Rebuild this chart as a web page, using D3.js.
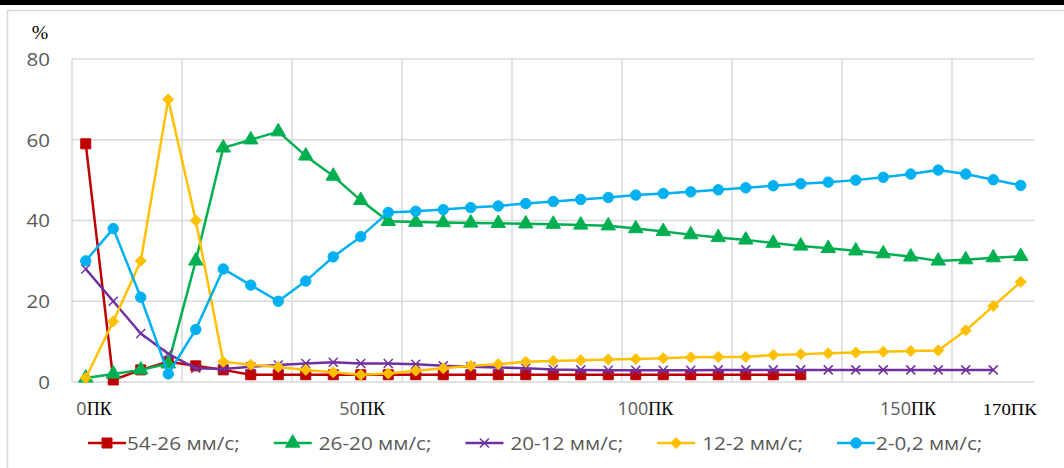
<!DOCTYPE html>
<html>
<head>
<meta charset="utf-8">
<script src="https://cdn.jsdelivr.net/npm/d3@7"></script>
<style>
body { margin: 0; background: #fff; overflow: hidden; }
text { font-family: "Open Sans", sans-serif; }
</style>
</head>
<body>
<script>
// values, one per picket (35 points)
var s54_26 = [59, 0.5, 3, 5, 4, 3, 1.8, 1.8, 1.8, 1.8, 1.8, 1.8, 1.8, 1.8, 1.8, 1.8, 1.8, 1.8,
    1.8, 1.8, 1.8, 1.8, 1.8, 1.8, 1.8, 1.8, 1.8];
var s26_20 = [1, 2, 3, 4.5, 30, 58, 60, 62, 56, 51, 45, 39.8, 39.6, 39.5, 39.4, 39.3, 39.2, 39.1,
    38.9, 38.7, 38, 37.3, 36.5, 35.8, 35.2, 34.4, 33.7, 33.1, 32.5, 31.8, 31, 30, 30.3, 30.8, 31.1];
var s20_12 = [28, 20, 12, 7, 3.4, 3.2, 3.8, 4.2, 4.6, 4.9, 4.6, 4.6, 4.4, 4, 3.8, 3.6, 3.4, 3.1,
    3, 2.9, 2.9, 2.9, 2.9, 3, 3, 3, 3, 3, 3, 3, 3, 3, 3, 3];
var s12_2 = [1, 15, 30, 70, 40, 5, 4.3, 3.7, 3, 2.4, 1.8, 2.1, 2.8, 3.4, 4, 4.4, 5, 5.2,
    5.4, 5.6, 5.7, 5.9, 6.1, 6.2, 6.2, 6.7, 6.9, 7.1, 7.3, 7.5, 7.7, 7.8, 12.8, 18.8, 24.8];
var s2_02 = [30, 38, 21, 2, 13, 28, 24, 20, 25, 31, 36, 42, 42.3, 42.7, 43.2, 43.6, 44.2, 44.7,
    45.2, 45.7, 46.3, 46.7, 47.1, 47.6, 48.1, 48.6, 49.1, 49.5, 50, 50.7, 51.5, 52.5, 51.5, 50.1, 48.7];

var seriesNames = ["54-26 мм/с;", "26-20 мм/с;", "20-12 мм/с;", "12-2 мм/с;", "2-0,2 мм/с;"];
var seriesColors = ["#C00000", "#00B050", "#7030A0", "#FFC000", "#00B0F0"];
var seriesMarkers = ["square", "triangle", "cross", "diamond", "circle"];
var seriesValues = [s54_26, s26_20, s20_12, s12_2, s2_02];

var yTicks = [0, 20, 40, 60, 80];
// picket labels and the category position they sit under
var xLabelNum = ["0", "50", "100", "150", "170"];
var xLabelPos = [0.3, 10.05, 20.35, 29.9, 33.6];

var nCats = 35;
var W = 1064, H = 468;

var svg = d3.select("body").append("svg")
    .attr("width", W)
    .attr("height", H);

// frame
svg.append("rect").attr("x", 0).attr("y", 0).attr("width", W).attr("height", 5).attr("fill", "#000");
svg.append("rect")
    .attr("x", 7.5).attr("y", 10.5)
    .attr("width", W + 20).attr("height", H)
    .attr("fill", "none")
    .attr("stroke", "#d9d9d9")
    .attr("stroke-width", 1.5);

var x = d3.scaleBand()
    .domain(d3.range(nCats))
    .range([72, 72 + 27.5 * nCats]);

var y = d3.scaleLinear()
    .domain([0, 80])
    .range([382, 59]);

var plotLeft = x.range()[0], plotRight = x.range()[1];

// gridlines
svg.append("g").selectAll("line")
    .data(yTicks)
    .enter().append("line")
    .attr("x1", plotLeft).attr("x2", plotRight)
    .attr("y1", d => y(d)).attr("y2", d => y(d))
    .attr("stroke", "#d9d9d9")
    .attr("stroke-width", 1.5);

svg.append("g").selectAll("line")
    .data(d3.range(0, nCats, 4))
    .enter().append("line")
    .attr("x1", d => x(d)).attr("x2", d => x(d))
    .attr("y1", y(80)).attr("y2", y(0))
    .attr("stroke", "#d9d9d9")
    .attr("stroke-width", 1.5);

function stretched(g, px, py, sc) {
    return g.append("g").attr("transform", "translate(" + px + "," + py + ") scale(" + sc + ",1)");
}

// y tick labels
yTicks.forEach(function(t) {
    stretched(svg, 50, y(t), 1.08).append("text")
        .attr("text-anchor", "end")
        .attr("dy", "0.36em")
        .attr("font-size", 19)
        .attr("fill", "#595959")
        .text(t);
});

stretched(svg, 40, 33, 1.1).append("text")
    .attr("text-anchor", "middle")
    .attr("dy", "0.35em")
    .attr("font-size", 18)
    .style("font-family", "'Liberation Serif', serif")
    .attr("fill", "#000")
    .text("%");

// x labels
xLabelNum.forEach(function(n, i) {
    var cx = x(0) + x.bandwidth() * (xLabelPos[i] + 0.5);
    var last = i === xLabelNum.length - 1;
    var t = stretched(svg, cx, 415, last ? 1.1 : 1.0).append("text")
        .attr("text-anchor", "middle")
        .attr("font-size", last ? 17 : 18);
    t.append("tspan")
        .attr("fill", last ? "#000" : "#595959")
        .style("font-family", last ? "'Liberation Serif', serif" : "'Open Sans', sans-serif")
        .text(n);
    t.append("tspan")
        .attr("fill", "#000")
        .style("font-family", "'Liberation Serif', serif")
        .text("ПК");
});

// markers
var markerSize = {square: 100, triangle: 90, circle: 85};
function markerPath(type) {
    if (type === "cross") {
        var r = 4.5;
        return "M" + (-r) + "," + (-r) + "L" + r + "," + r + "M" + (-r) + "," + r + "L" + r + "," + (-r);
    }
    if (type === "diamond") {
        var q = 5.5;
        return "M0," + (-q) + "L" + q + ",0L0," + q + "L" + (-q) + ",0Z";
    }
    var sym = {square: d3.symbolSquare, triangle: d3.symbolTriangle, circle: d3.symbolCircle}[type];
    return d3.symbol().type(sym).size(markerSize[type])();
}

function drawMarker(g, type, color) {
    var p = g.append("path").attr("d", markerPath(type));
    if (type === "cross") {
        p.attr("fill", "none").attr("stroke", color).attr("stroke-width", 1.5);
    } else {
        p.attr("fill", color).attr("stroke", color).attr("stroke-width", 1);
    }
}

var line = d3.line()
    .x((d, i) => x(i) + x.bandwidth() / 2)
    .y(d => y(d));

seriesValues.forEach(function(vals, k) {
    var g = svg.append("g");
    g.append("path")
        .datum(vals)
        .attr("d", line)
        .attr("fill", "none")
        .attr("stroke", seriesColors[k])
        .attr("stroke-width", 2.5)
        .attr("stroke-linejoin", "round");
    vals.forEach(function(v, i) {
        var m = g.append("g").attr("transform", "translate(" + (x(i) + x.bandwidth() / 2) + "," + y(v) + ")");
        drawMarker(m, seriesMarkers[k], seriesColors[k]);
    });
});

// legend
var legY = 443;
var lx = 88;
seriesNames.forEach(function(name, k) {
    var g = svg.append("g");
    g.append("line")
        .attr("x1", lx).attr("x2", lx + 38)
        .attr("y1", legY).attr("y2", legY)
        .attr("stroke", seriesColors[k])
        .attr("stroke-width", 2.5);
    var m = g.append("g").attr("transform", "translate(" + (lx + 19) + "," + legY + ")");
    drawMarker(m, seriesMarkers[k], seriesColors[k]);
    var tx = lx + 38 + (k === 0 || k === 4 ? 1 : 7);
    var t = stretched(g, tx, legY, 1.12).append("text")
        .attr("dy", "0.36em")
        .attr("font-size", 18.5)
        .attr("fill", "#595959")
        .text(name);
    var w = t.node().getComputedTextLength() * 1.12;
    lx = tx + w + 34;
});
</script>
</body>
</html>
